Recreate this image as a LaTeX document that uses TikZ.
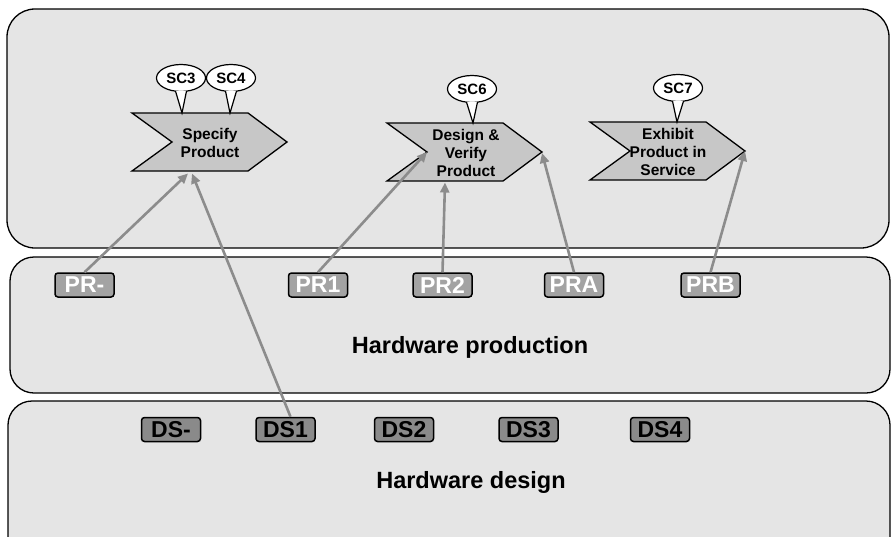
\documentclass[tikz,border=0pt]{standalone}
\usepackage{fontspec}
\setmainfont{Liberation Sans}
\usetikzlibrary{arrows.meta,positioning,shapes.geometric}
\definecolor{panelgray}{gray}{0.90}
\definecolor{chevgray}{gray}{0.78}
\definecolor{prgray}{gray}{0.64}
\definecolor{dsgray}{gray}{0.54}
\definecolor{flowgray}{gray}{0.55}
\tikzstyle{panel}=[draw, line width=1.3pt, fill=panelgray, rounded corners=28pt]
\tikzstyle{chev}=[draw, line width=1.3pt, fill=chevgray, line join=miter]
\tikzstyle{chevtext}=[align=center, font=\bfseries\fontsize{15.5}{18}\selectfont]
\tikzstyle{bubble}=[ellipse, draw, line width=1.2pt, fill=white, minimum width=49pt, minimum height=27pt, inner sep=0pt, font=\bfseries\fontsize{15}{15}\selectfont]
\tikzstyle{prbox}=[draw, line width=1.5pt, rounded corners=3pt, fill=prgray, text=white, minimum width=59pt, minimum height=24pt, inner sep=0pt, font=\bfseries\fontsize{23}{23}\selectfont]
\tikzstyle{dsbox}=[prbox, fill=dsgray, text=black]
\tikzstyle{flow}=[->, draw=flowgray, line width=2.6pt]
\tikzstyle{layer}=[font=\bfseries\fontsize{23.5}{23.5}\selectfont]
\newcommand\chevron[1]{\draw[chev] (#1) -- ++(116,0) -- ++(39,29) -- ++(-39,29) -- ++(-116,0) -- ++(40,-29) -- cycle;}
\newcommand\sctail[2]{%
\fill[white] ([xshift=-5.5pt,yshift=1pt]#1.south) -- (#2) -- ([xshift=5.5pt,yshift=1pt]#1.south) -- cycle;
\draw[line width=1.2pt] ([xshift=-5.5pt,yshift=1pt]#1.south) -- (#2) -- ([xshift=5.5pt,yshift=1pt]#1.south);}

\begin{document}
\begin{tikzpicture}[x=1pt, y=-1pt, >={Triangle[length=10pt,width=9pt]}]
\clip (0,0) rectangle (891,536);
\fill[white] (0,0) rectangle (891,536);
% layers
\draw[panel] (7,9) rectangle (889,248);
\draw[panel, rounded corners=24pt] (10,257) rectangle (890,393);
\draw[panel, rounded corners=24pt] (8,401) rectangle (890,575);
\node[layer] (prod) at (470,347) {Hardware production};
\node[layer] (design) at (471,482) {Hardware design};
% processes
\coordinate (c1) at (132,113); \chevron{c1}
\node[chevtext] (spec) at (210,143) {Specify\\Product};
\coordinate (c2) at (387,123); \chevron{c2}
\node[chevtext] (desver) at (466,153) {Design \&\\Verify\\Product};
\coordinate (c3) at (590,122); \chevron{c3}
\node[chevtext] (exhib) at (668,152) {Exhibit\\Product in\\Service};
\coordinate (spec-in1) at (188,173.5);
\coordinate (spec-in2) at (192,173.5);
\coordinate (desver-notch) at (427,152);
\coordinate (desver-in) at (445,182.5);
\coordinate (desver-tip) at (542,153);
\coordinate (exhib-tip) at (745,151);
% stakeholder concerns
\node[bubble] (sc3) at (181,78) {SC3};
\node[bubble] (sc4) at (231,78) {SC4};
\node[bubble] (sc6) at (472,89) {SC6};
\node[bubble] (sc7) at (678,88) {SC7};
\coordinate (sc3-tip) at (182,113);
\coordinate (sc4-tip) at (230,113);
\coordinate (sc6-tip) at (473,123);
\coordinate (sc7-tip) at (677,122);
\sctail{sc3}{sc3-tip}
\sctail{sc4}{sc4-tip}
\sctail{sc6}{sc6-tip}
\sctail{sc7}{sc7-tip}
% production and design items
\node[prbox] (prm) at (84.5,285) {PR-};
\node[prbox, right=173pt of prm] (pr1) {PR1};
\node[prbox, right=64pt of pr1] (pr2) {PR2};
\node[prbox, right=71pt of pr2] (pra) {PRA};
\node[prbox, right=76pt of pra] (prb) {PRB};
\node[dsbox] (dsm) at (171,429.5) {DS-};
\node[dsbox, right=54pt of dsm] (ds1) {DS1};
\node[dsbox, right=58pt of ds1] (ds2) {DS2};
\node[dsbox, right=64pt of ds2] (ds3) {DS3};
\node[dsbox, right=71pt of ds3] (ds4) {DS4};
% flows
\draw[flow] (prm.north) -- (spec-in1);
\draw[flow] ([xshift=5pt]ds1.north) -- (spec-in2);
\draw[flow] (pr1.north) -- (desver-notch);
\draw[flow] (pr2.north) -- (desver-in);
\draw[flow] (pra.north) -- (desver-tip);
\draw[flow] (prb.north) -- (exhib-tip);
\end{tikzpicture}
\end{document}
